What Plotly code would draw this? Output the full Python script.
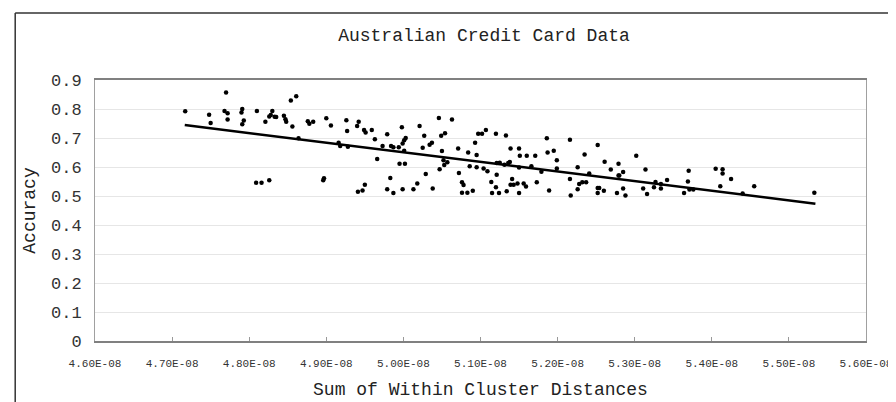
import plotly.graph_objects as go

# Sum of within cluster distances (x, in units of 1e-8) and accuracy (y)
x_vals = [
    4.717, 4.770, 4.748, 4.750, 4.768, 4.772, 4.772, 4.791, 4.790, 4.793,
    4.791, 4.810, 4.821, 4.826, 4.828, 4.830, 4.833, 4.835, 4.809, 4.816,
    4.826, 4.845, 4.847, 4.848, 4.854, 4.861, 4.856, 4.876, 4.878, 4.883,
    4.900, 4.906, 4.916, 4.918, 4.896, 4.897, 4.926, 4.927, 4.928, 4.942,
    4.940, 4.949, 4.951, 4.959, 4.963, 4.973, 4.966, 4.979, 4.941, 4.947,
    4.950, 4.979, 4.984, 4.987, 4.994, 4.998, 4.999, 5.001, 5.003, 5.001,
    4.995, 5.002, 4.983, 4.987, 4.999, 5.013, 5.018, 5.021, 5.027, 5.025,
    5.029, 5.034, 5.037, 5.038, 5.046, 5.049, 5.054, 5.050, 5.052, 5.057,
    5.053, 5.047, 5.063, 5.071, 5.072, 5.076, 5.078, 5.076, 5.083, 5.090,
    5.084, 5.086, 5.093, 5.095, 5.095, 5.097, 5.102, 5.107, 5.104, 5.109,
    5.114, 5.115, 5.120, 5.120, 5.121, 5.125, 5.131, 5.136, 5.138, 5.121,
    5.124, 5.133, 5.139, 5.134, 5.139, 5.143, 5.141, 5.148, 5.150, 5.150,
    5.151, 5.150, 5.156, 5.159, 5.160, 5.166, 5.171, 5.173, 5.179, 5.186,
    5.187, 5.189, 5.195, 5.199, 5.199, 5.216, 5.216, 5.217, 5.226, 5.226,
    5.228, 5.232, 5.235, 5.237, 5.241, 5.252, 5.252, 5.254, 5.252, 5.260,
    5.261, 5.269, 5.279, 5.279, 5.280, 5.285, 5.277, 5.285, 5.288, 5.302,
    5.311, 5.314, 5.316, 5.325, 5.327, 5.334, 5.334, 5.342, 5.364, 5.369,
    5.370, 5.371, 5.376, 5.405, 5.414, 5.414, 5.411, 5.425, 5.455, 5.440,
    5.533, 4.864,
]
accuracy = [
    0.792, 0.857, 0.780, 0.752, 0.793, 0.785, 0.764, 0.800, 0.788, 0.760,
    0.747, 0.793, 0.756, 0.774, 0.779, 0.793, 0.773, 0.772, 0.546, 0.546,
    0.554, 0.777, 0.765, 0.756, 0.829, 0.844, 0.740, 0.758, 0.749, 0.756,
    0.768, 0.743, 0.684, 0.672, 0.554, 0.561, 0.761, 0.724, 0.670, 0.756,
    0.741, 0.728, 0.719, 0.728, 0.696, 0.672, 0.628, 0.713, 0.515, 0.519,
    0.539, 0.523, 0.672, 0.668, 0.668, 0.737, 0.681, 0.692, 0.700, 0.656,
    0.611, 0.611, 0.562, 0.510, 0.523, 0.523, 0.543, 0.741, 0.708, 0.666,
    0.576, 0.677, 0.684, 0.526, 0.769, 0.708, 0.716, 0.655, 0.623, 0.616,
    0.607, 0.592, 0.764, 0.664, 0.579, 0.547, 0.538, 0.511, 0.511, 0.518,
    0.650, 0.603, 0.684, 0.641, 0.599, 0.715, 0.715, 0.728, 0.595, 0.585,
    0.548, 0.510, 0.715, 0.530, 0.614, 0.615, 0.608, 0.614, 0.617, 0.573,
    0.510, 0.709, 0.664, 0.516, 0.539, 0.539, 0.559, 0.543, 0.510, 0.664,
    0.639, 0.598, 0.543, 0.533, 0.639, 0.603, 0.639, 0.547, 0.584, 0.699,
    0.650, 0.519, 0.656, 0.623, 0.595, 0.694, 0.559, 0.502, 0.599, 0.523,
    0.541, 0.547, 0.643, 0.547, 0.578, 0.676, 0.528, 0.528, 0.510, 0.518,
    0.618, 0.591, 0.611, 0.571, 0.571, 0.583, 0.510, 0.526, 0.502, 0.639,
    0.526, 0.591, 0.507, 0.530, 0.548, 0.541, 0.526, 0.555, 0.510, 0.550,
    0.587, 0.522, 0.522, 0.594, 0.592, 0.578, 0.534, 0.559, 0.534, 0.509,
    0.511, 0.699,
]
x_scale = 1e-8
x_data = [v * x_scale for v in x_vals]

# Linear trend line end points
trend_x = [4.7164e-8, 5.5344e-8]
trend_y = [0.7448, 0.4734]

x_tick_vals = [4.6e-8, 4.7e-8, 4.8e-8, 4.9e-8, 5.0e-8, 5.1e-8, 5.2e-8, 5.3e-8, 5.4e-8, 5.5e-8, 5.6e-8]
x_tick_text = ["4.60E-08", "4.70E-08", "4.80E-08", "4.90E-08", "5.00E-08", "5.10E-08",
               "5.20E-08", "5.30E-08", "5.40E-08", "5.50E-08", "5.60E-08"]
y_tick_vals = [0, 0.1, 0.2, 0.3, 0.4, 0.5, 0.6, 0.7, 0.8, 0.9]
y_tick_text = ["0", "0.1", "0.2", "0.3", "0.4", "0.5", "0.6", "0.7", "0.8", "0.9"]

FONT = "Liberation Mono, Courier New, monospace"

fig = go.Figure()
fig.add_trace(go.Scatter(
    x=x_data, y=accuracy, mode="markers",
    marker=dict(color="black", size=4.5, line=dict(width=0)),
    showlegend=False, hoverinfo="x+y",
))
fig.add_trace(go.Scatter(
    x=trend_x, y=trend_y, mode="lines",
    line=dict(color="black", width=2.5),
    showlegend=False,
))

W, H = 896, 402
ml, mr, mt, mb = 87, 36, 72, 69
pw, ph = W - ml - mr, H - mt - mb

def px_to_paper_x(px):
    return (px - ml) / pw

def py_to_paper_y(py):
    return (H - mb - py) / ph

fig.update_layout(
    width=W, height=H,
    margin=dict(l=ml, r=mr, t=mt, b=mb, pad=0),
    paper_bgcolor="white", plot_bgcolor="white",
    font=dict(family=FONT, color="#222222"),
    title=dict(
        text="Australian Credit Card Data",
        font=dict(family=FONT, size=18, color="#222222"),
        x=px_to_paper_x(477), xref="paper", xanchor="center",
        y=1 - 27 / H, yref="container", yanchor="middle",
    ),
    xaxis=dict(
        range=[4.6e-8, 5.6e-8],
        tickvals=x_tick_vals, ticktext=x_tick_text,
        tickfont=dict(family=FONT, size=11, color="#333333"),
        ticks="inside", ticklen=4, tickcolor="#999999",
        showgrid=False, zeroline=False,
        showline=True, linecolor="#808080", linewidth=1.5, mirror=True,
        ticklabelstandoff=11,
        title=dict(text="Sum of Within Cluster Distances",
                   font=dict(family=FONT, size=18, color="#222222"),
                   standoff=13),
    ),
    yaxis=dict(
        range=[0, 0.9],
        tickvals=y_tick_vals, ticktext=y_tick_text,
        tickfont=dict(family=FONT, size=17, color="#333333"),
        ticks="", showgrid=True, gridcolor="#e6e6e6", gridwidth=1,
        zeroline=False,
        showline=True, linecolor="#a0a0a0", linewidth=1, mirror=True,
        ticklabelstandoff=9,
        title=dict(text="Accuracy",
                   font=dict(family=FONT, size=18, color="#222222"),
                   standoff=10),
    ),
    shapes=[
        dict(type="line", xref="paper", yref="paper",
             x0=px_to_paper_x(7), x1=px_to_paper_x(7),
             y0=py_to_paper_y(5), y1=py_to_paper_y(410),
             line=dict(color="#333333", width=1.5)),
        dict(type="line", xref="paper", yref="paper",
             x0=px_to_paper_x(7), x1=px_to_paper_x(905),
             y0=py_to_paper_y(5), y1=py_to_paper_y(5),
             line=dict(color="#333333", width=1.5)),
    ],
)

fig.write_html("out.html")
